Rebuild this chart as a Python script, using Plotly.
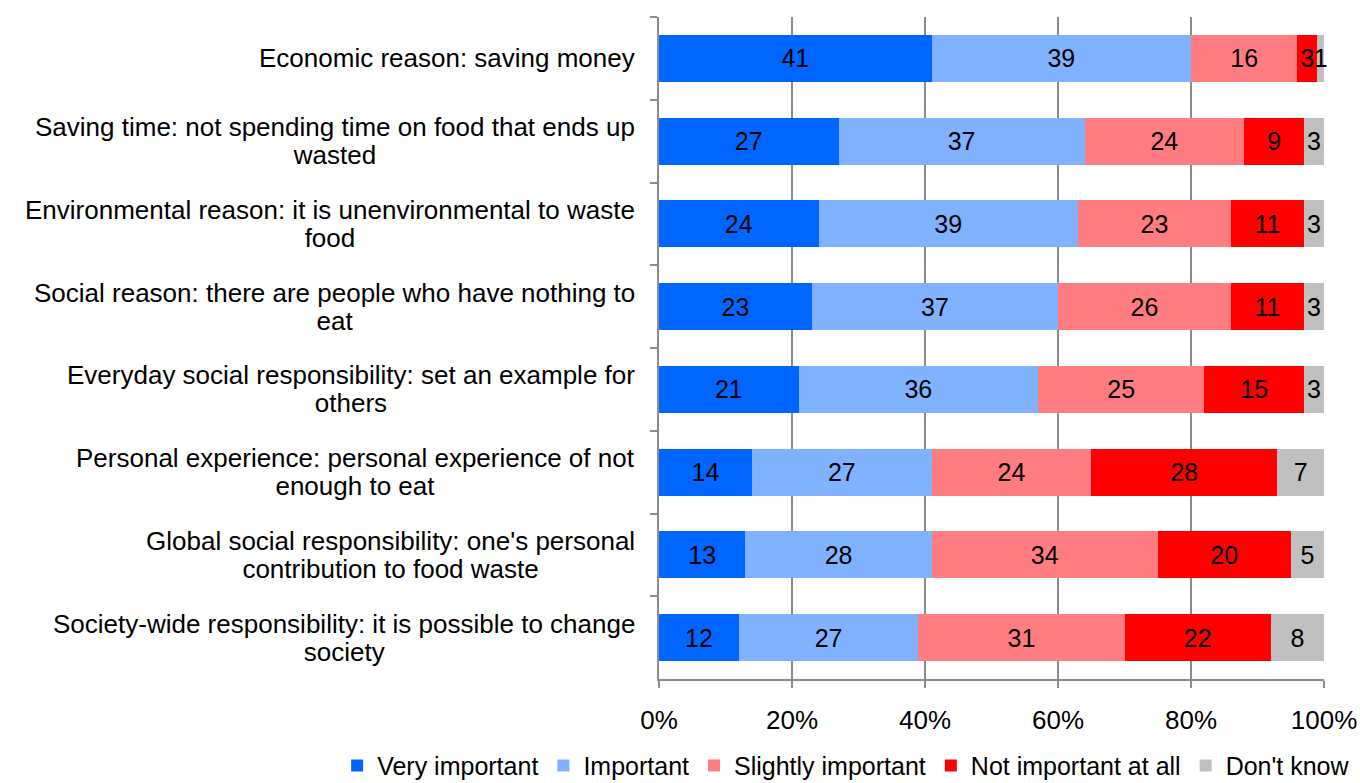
import plotly.graph_objects as go

categories = [
    "Economic reason: saving money",
    "Saving time: not spending time on food that ends up<br>wasted",
    "Environmental reason: it is unenvironmental to waste<br>food",
    "Social reason: there are people who have nothing to<br>eat",
    "Everyday social responsibility: set an example for<br>others",
    "Personal experience: personal experience of not<br>enough to eat",
    "Global social responsibility: one's personal<br>contribution to food waste",
    "Society-wide responsibility: it is possible to change<br>society",
]
series_names = ["Very important", "Important", "Slightly important", "Not important at all", "Don't know"]
very_important = [41, 27, 24, 23, 21, 14, 13, 12]
important = [39, 37, 39, 37, 36, 27, 28, 27]
slightly_important = [16, 24, 23, 26, 25, 24, 34, 31]
not_important = [3, 9, 11, 11, 15, 28, 20, 22]
dont_know = [1, 3, 3, 3, 3, 7, 5, 8]
colors = ["#0066FF", "#80B2FF", "#FF7C80", "#FF0000", "#BFBFBF"]
tick_vals = [0, 20, 40, 60, 80, 100]
tick_text = ["0%", "20%", "40%", "60%", "80%", "100%"]

FONT = "Liberation Sans, Arial, sans-serif"
FS = 26
fig = go.Figure()
for name, vals, col in zip(series_names,
                           [very_important, important, slightly_important, not_important, dont_know],
                           colors):
    fig.add_trace(go.Bar(
        y=categories, x=vals, name=name, orientation="h",
        marker=dict(color=col, line=dict(width=0)),
        text=[str(v) for v in vals], textposition="inside",
        insidetextanchor="middle", constraintext="none",
        textfont=dict(family=FONT, size=25, color="black"),
        cliponaxis=False,
    ))

for c in categories:
    styled = "<br>".join('<span style="font-size:%dpx">%s</span>' % (FS, part) for part in c.split("<br>"))
    fig.add_annotation(
        x=0, xref="paper", xshift=-22, xanchor="right",
        y=c, yref="y", yanchor="middle",
        text=styled, showarrow=False, align="center",
        font=dict(family=FONT, size=21.5, color="black"),
    )

fig.update_layout(
    barmode="stack",
    bargap=0.43,
    width=1360, height=783,
    margin=dict(l=659, r=36, t=17, b=104, autoexpand=False),
    plot_bgcolor="white", paper_bgcolor="white",
    font=dict(family=FONT, size=FS, color="black"),
    uniformtext=dict(minsize=25, mode="show"),
    showlegend=True,
    legend=dict(orientation="h", x=-0.484, xanchor="left", y=-0.131, yanchor="middle",
                font=dict(family=FONT, size=25, color="black"),
                itemwidth=30, tracegroupgap=0, traceorder="normal"),
    xaxis=dict(range=[0, 100], tickvals=tick_vals, ticktext=tick_text,
               showgrid=True, gridcolor="#8C8C8C", gridwidth=1.5,
               showline=True, linecolor="#8C8C8C", linewidth=1.5,
               ticks="outside", ticklen=7, tickcolor="#8C8C8C", tickwidth=1.5,
               ticklabelstandoff=10, zeroline=False, automargin=False,
               tickfont=dict(family=FONT, size=FS, color="black")),
    yaxis=dict(categoryorder="array", categoryarray=categories, autorange="reversed",
               showticklabels=False, showline=True, linecolor="#8C8C8C", linewidth=1.5,
               ticks="outside", ticklen=7, tickcolor="#8C8C8C", tickwidth=1.5,
               tickson="boundaries", showgrid=False, zeroline=False, automargin=False),
)

fig.write_html("out.html", config={"displayModeBar": False},
               post_script="document.body.style.margin='0';document.body.style.overflow='hidden';")
